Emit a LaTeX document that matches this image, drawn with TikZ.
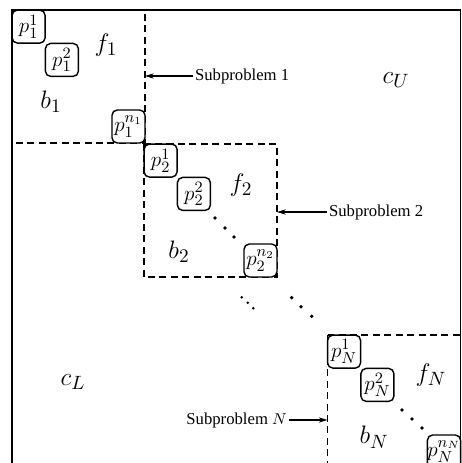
\documentclass[tikz,border=0pt]{standalone}
\usepackage{fontspec}
\setmainfont{Liberation Serif}
\usepackage{tikz}
\usetikzlibrary{arrows.meta,positioning,calc}
\tikzset{
  %% Dashed subproblem blocks
  blkline/.style={
    draw=black, thick, dash pattern=on 4pt off 2.5pt},
  %% Rounded variable boxes
  pbox/.style={
    rectangle, rounded corners=3pt,
    draw=black, fill=white, solid, thick,
    minimum size=0.66cm, inner sep=0pt,
    font=\fontsize{12.5}{12.5}\selectfont},
  %% Block labels (f, b, c)
  lbl/.style={font=\fontsize{15}{15}\selectfont},
  %% Subproblem captions
  subtxt/.style={font=\fontsize{9.5}{10}\selectfont, inner sep=1pt},
  %% Dots
  dotmark/.style={circle, fill=black, inner sep=0pt, minimum size=2.2pt},
  %% Arrows
  arrow/.style={-{Stealth[length=5pt,width=3pt]}, semithick},
}
\begin{document}
\begin{tikzpicture}[x=0.02cm, y=-0.02cm]

  \clip (0,0) rectangle (462,463);

  %% Outer frame
  \draw[thick] (12,480) -- (12,10) -- (460.5,10) -- (460.5,480);

  %% Subproblem blocks
  \coordinate (blk1nw) at (12,10);
  \coordinate (blk1se) at (145,143);
  \coordinate (blk2nw) at (144,144);
  \coordinate (blk2se) at (277,277);
  \coordinate (blkNnw) at (327.5,335);
  \coordinate (blkNse) at (460.5,468);
  \draw[blkline] (blk1nw) rectangle (blk1se);
  \draw[blkline] (blk2nw) rectangle (blk2se);
  \draw[blkline] (blkNnw) rectangle (blkNse);

  %% Block 1
  \node[pbox] (p11) at (28.6,26.6)   {$p_1^1$};
  \node[pbox] (p12) at (61.9,59.9)   {$p_1^2$};
  \node[pbox] (p1n) at (128.5,126.5) {$p_1^{n_1}$};
  \node[lbl] (f1) at (106,45)  {$f_1$};
  \node[lbl] (b1) at (51,102)  {$b_1$};

  %% Block 2
  \node[pbox] (p21) at (160.6,160.6) {$p_2^1$};
  \node[pbox] (p22) at (193.9,193.9) {$p_2^2$};
  \node[pbox] (p2n) at (260.5,260.5) {$p_2^{n_2}$};
  \node[lbl] (f2) at (241,185) {$f_2$};
  \node[lbl] (b2) at (179,252) {$b_2$};
  \node[dotmark] (d21) at (215,218) {};
  \node[dotmark] (d22) at (225,228) {};
  \node[dotmark] (d23) at (234,237) {};

  %% Dots between blocks
  \node[dotmark, minimum size=1.6pt] (m1) at (241.7,297.3) {};
  \node[dotmark, minimum size=1.6pt] (m2) at (247.7,302.7) {};
  \node[dotmark, minimum size=1.6pt] (m3) at (253.3,308.3) {};
  \node[dotmark] (m4) at (291.7,297.7) {};
  \node[dotmark] (m5) at (301,306.7)   {};
  \node[dotmark] (m6) at (311.7,316.3) {};

  %% Block N
  \node[pbox] (pN1) at (344.1,351.6) {$p_N^1$};
  \node[pbox] (pN2) at (377.4,384.9) {$p_N^2$};
  \node[pbox] (pNn) at (444,451.5)   {$p_N^{n_N}$};
  \node[lbl] (fN) at (431,375) {$f_N$};
  \node[lbl] (bN) at (374,437) {$b_N$};
  \node[dotmark] (dN1) at (402,410) {};
  \node[dotmark] (dN2) at (412,419) {};
  \node[dotmark] (dN3) at (422,428) {};

  %% Coupling regions
  \node[lbl] (cU) at (396,80)  {$c_U$};
  \node[lbl] (cL) at (73,382)  {$c_L$};

  %% Subproblem captions and arrows
  \node[subtxt, anchor=west] (sub1) at (193,76)  {Subproblem 1};
  \node[subtxt, anchor=west] (sub2) at (327,212) {Subproblem 2};
  \node[subtxt, anchor=east] (subN) at (289,420) {Subproblem $N$};

  \draw[arrow] (sub1.west) -- (sub1.west -| blk1se);
  \draw[arrow] (sub2.west) -- (sub2.west -| blk2se);
  \draw[arrow] (subN.east) -- (subN.east -| blkNnw);

\end{tikzpicture}
\end{document}
